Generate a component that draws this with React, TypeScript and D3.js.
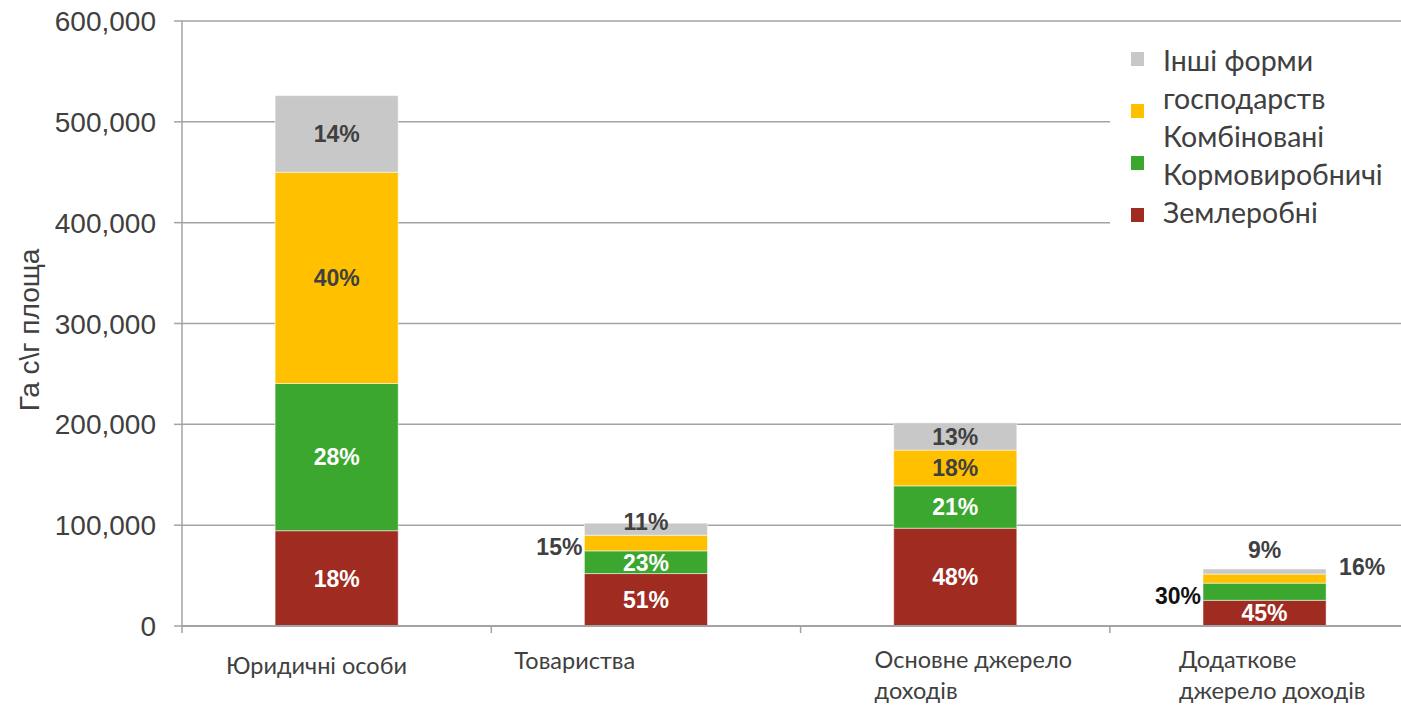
import * as d3 from 'd3'

// values in thousands of hectares
const categories = ['Юридичні особи', 'Товариства', 'Основне джерело доходів', 'Додаткове джерело доходів']
const categoryLines = [['Юридичні особи'], ['Товариства'], ['Основне джерело', 'доходів'], ['Додаткове', 'джерело доходів']]

const seriesNames = ['Землеробні', 'Кормовиробничі', 'Комбіновані', 'Інші форми господарств']
const zemlerobni = [94.5, 52, 97, 25.5]
const kormovyrobnychi = [146, 22.5, 42, 17]
const kombinovani = [209.5, 15.5, 35.5, 9]
const inshi = [76, 12, 27, 5]

const pctZemlerobni = ['18%', '51%', '48%', '45%']
const pctKorm = ['28%', '23%', '21%', '30%']
const pctKomb = ['40%', '15%', '18%', '16%']
const pctInshi = ['14%', '11%', '13%', '9%']

const yTicks = [0, 100, 200, 300, 400, 500, 600]

const colors = ['#A02B21', '#3BA72F', '#FFC000', '#C8C8C8']
const labelColors = ['#ffffff', '#ffffff', '#404040', '#404040']

const W = 1401
const H = 706
const margin = {left: 182, top: 21, bottom: 80}

export default function App() {
  const seriesVals = [zemlerobni, kormovyrobnychi, kombinovani, inshi]
  const seriesPct = [pctZemlerobni, pctKorm, pctKomb, pctInshi]

  const rows = categories.map((c, i) => {
    const r: any = {cat: c}
    seriesNames.forEach((s, j) => (r[s] = seriesVals[j][i]))
    return r
  })
  const stacked = d3.stack().keys(seriesNames)(rows)

  const step = 309.3
  const x = d3.scaleBand()
    .domain(categories)
    .range([margin.left, margin.left + step * categories.length])
    .paddingInner(0.602)
    .paddingOuter(0.301)
  const y = d3.scaleLinear().domain([0, 600]).range([H - margin.bottom, margin.top])
  const fmt = d3.format(',')

  // labels that sit outside the bar: [series, category] -> placement
  const outside: Record<string, {mode: string}> = {
    '2-1': {mode: 'left'},
    '3-1': {mode: 'top'},
    '1-3': {mode: 'left'},
    '2-3': {mode: 'right'},
    '3-3': {mode: 'above'},
  }

  const y0 = y(0)
  const bw = x.bandwidth()

  return (
    <div style={{position: 'absolute', left: 0, top: 0}}>
      <svg width={W} height={H} style={{display: 'block', background: '#fff'}}>
        {/* gridlines */}
        {yTicks.filter(t => t > 0).map(t => (
          <line key={t} x1={margin.left} x2={W} y1={y(t)} y2={y(t)} stroke="#a3a3a3" strokeWidth={1.5} />
        ))}
        {/* y axis */}
        <line x1={margin.left} x2={margin.left} y1={y(600)} y2={y0} stroke="#a3a3a3" strokeWidth={1.5} />
        {yTicks.map(t => (
          <g key={t}>
            <line x1={margin.left - 8} x2={margin.left} y1={y(t)} y2={y(t)} stroke="#a3a3a3" strokeWidth={1.5} />
            <text x={156} y={y(t)} dy="0.36em" textAnchor="end" fontFamily="Liberation Sans, Arial" fontSize={28} fill="#404040">
              {t === 0 ? '0' : fmt(t * 1000)}
            </text>
          </g>
        ))}
        <text transform={`translate(39,${330}) rotate(-90)`} textAnchor="middle" fontFamily="Liberation Sans, Arial" fontSize={28} fill="#404040">
          Га с\г площа
        </text>

        {/* bars */}
        {stacked.map((s, j) => (
          <g key={s.key}>
            {s.map((d, i) => (
              <rect key={i} x={x(categories[i])} y={y(d[1])} width={bw} height={y(d[0]) - y(d[1])}
                fill={colors[j]} stroke="#ffffff" strokeOpacity={0.5} strokeWidth={1} />
            ))}
          </g>
        ))}

        {/* x axis */}
        <line x1={margin.left} x2={W} y1={y0} y2={y0} stroke="#a3a3a3" strokeWidth={2} />
        {categories.map((c, i) => (
          <line key={c} x1={margin.left + step * i} x2={margin.left + step * i} y1={y0} y2={y0 + 7} stroke="#a3a3a3" strokeWidth={1.5} />
        ))}
        {categoryLines.map((lines, i) => {
          const offs = [44, 23, 74, 69]
          const base = [674, 669, 668, 668]
          return (
            <text key={i} x={margin.left + step * i + offs[i]} y={base[i]} fontFamily="Lato, Noto Sans" fontSize={23.5} fill="#404040">
              {lines.map((l, k) => (
                <tspan key={k} x={margin.left + step * i + offs[i]} dy={k === 0 ? 0 : 31}>{l}</tspan>
              ))}
            </text>
          )
        })}

        {/* data labels */}
        {stacked.map((s, j) => s.map((d, i) => {
          const cx = x(categories[i])! + bw / 2
          const top = y(d[1])
          const bot = y(d[0])
          const mid = (top + bot) / 2
          const o = outside[`${j}-${i}`]
          let lx = cx, ly = mid, anchor = 'middle', fill = labelColors[j]
          if (o) {
            fill = '#404040'
            if (o.mode === 'left') { lx = x(categories[i])! - 2; ly = mid + 4; anchor = 'end'; if (j === 1) fill = '#111' }
            if (o.mode === 'right') { lx = x(categories[i])! + bw + 13; ly = top - 7; anchor = 'start' }
            if (o.mode === 'top') { ly = top - 1 }
            if (o.mode === 'above') { ly = top - 19 }
          }
          return (
            <text key={`${j}-${i}`} x={lx} y={ly} dy="0.36em" textAnchor={anchor} fontFamily="Liberation Sans, Arial"
              fontWeight="bold" fontSize={23} fill={fill}>
              {seriesPct[j][i]}
            </text>
          )
        }))}

        {/* legend */}
        <rect x={1110} y={38} width={W - 1110} height={198} fill="#ffffff" />
        {[3, 2, 1, 0].map((j, k) => (
          <rect key={j} x={1131} y={52 + k * 52} width={13} height={14} fill={colors[j]} />
        ))}
        {['Інші форми', 'господарств', 'Комбіновані', 'Кормовиробничі', 'Землеробні'].map((t, k) => (
          <text key={k} x={1163} y={71 + k * 38} fontFamily="Lato, Noto Sans" fontSize={28.5} fill="#404040">{t}</text>
        ))}
      </svg>
    </div>
  )
}
